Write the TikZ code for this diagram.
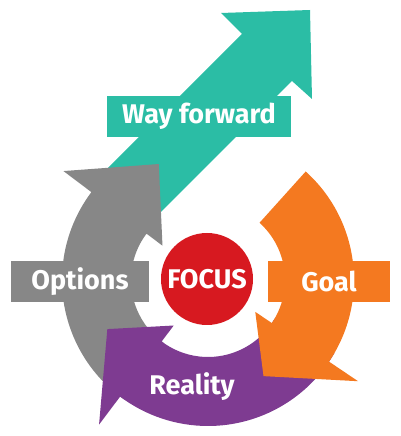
\documentclass[tikz,border=0pt]{standalone}
\usepackage{fontspec}
\setmainfont{Fira Sans}
\usepackage{tikz}
\definecolor{wayteal}{RGB}{43, 189, 165}
\definecolor{optgray}{RGB}{135, 135, 135}
\definecolor{realpurple}{RGB}{126, 59, 145}
\definecolor{goalorange}{RGB}{244, 121, 32}
\definecolor{focusred}{RGB}{215, 25, 32}

\begin{document}
\begin{tikzpicture}[x=1pt, y=1pt,
   labelbox/.style={fill=#1, text=white, inner sep=0, minimum height=41,
                    font=\bfseries\fontsize{27}{30}\selectfont},
   labeltext/.style={text=white, inner sep=0,
                     font=\bfseries\fontsize{27}{30}\selectfont},
   focuscirc/.style={circle, fill=focusred, text=white, inner sep=0,
                     minimum size=92, font=\bfseries\fontsize{27}{30}\selectfont}
  ]
  \useasboundingbox (0, 0) rectangle (400, 436);

  % way forward arrow, tail hidden below the grey head
  \fill[wayteal] (98, 258) -- (242, 402) -- (221, 423) -- (310, 426)
     -- (312, 337) -- (292, 355) -- (146.5, 209.5) -- cycle;
  \node (WAY) at (199, 319.5) [labelbox=wayteal, minimum width=184] {Way forward};

  % the three arrows of the cycle
  \begin{scope}[shift={(208, 156)}]
    \foreach \C/\T/\H/\A/\R in {optgray/235/143/113/126,
                                realpurple/330/233/206/112,
                                goalorange/48/-34/-60/111} {
      \fill[\C] (\T:146) arc[start angle=\T, end angle=\H, radius=146]
         -- (\H:181) -- (\A:\R) -- (\H:57) -- (\H:77)
         arc[start angle=\H, end angle=\T, radius=77] -- cycle;
    }
  \end{scope}

  \node (OPT) at (80, 154.5) [labelbox=optgray, minimum width=138] {Options};
  \node (GOAL) at (329, 154.5) [labelbox=goalorange, minimum width=122] {Goal};
  \node (REAL) at (192, 49) [labeltext] {Reality};
  \node (FOCUS) at (207, 157) [focuscirc] {FOCUS};

\end{tikzpicture}
\end{document}
